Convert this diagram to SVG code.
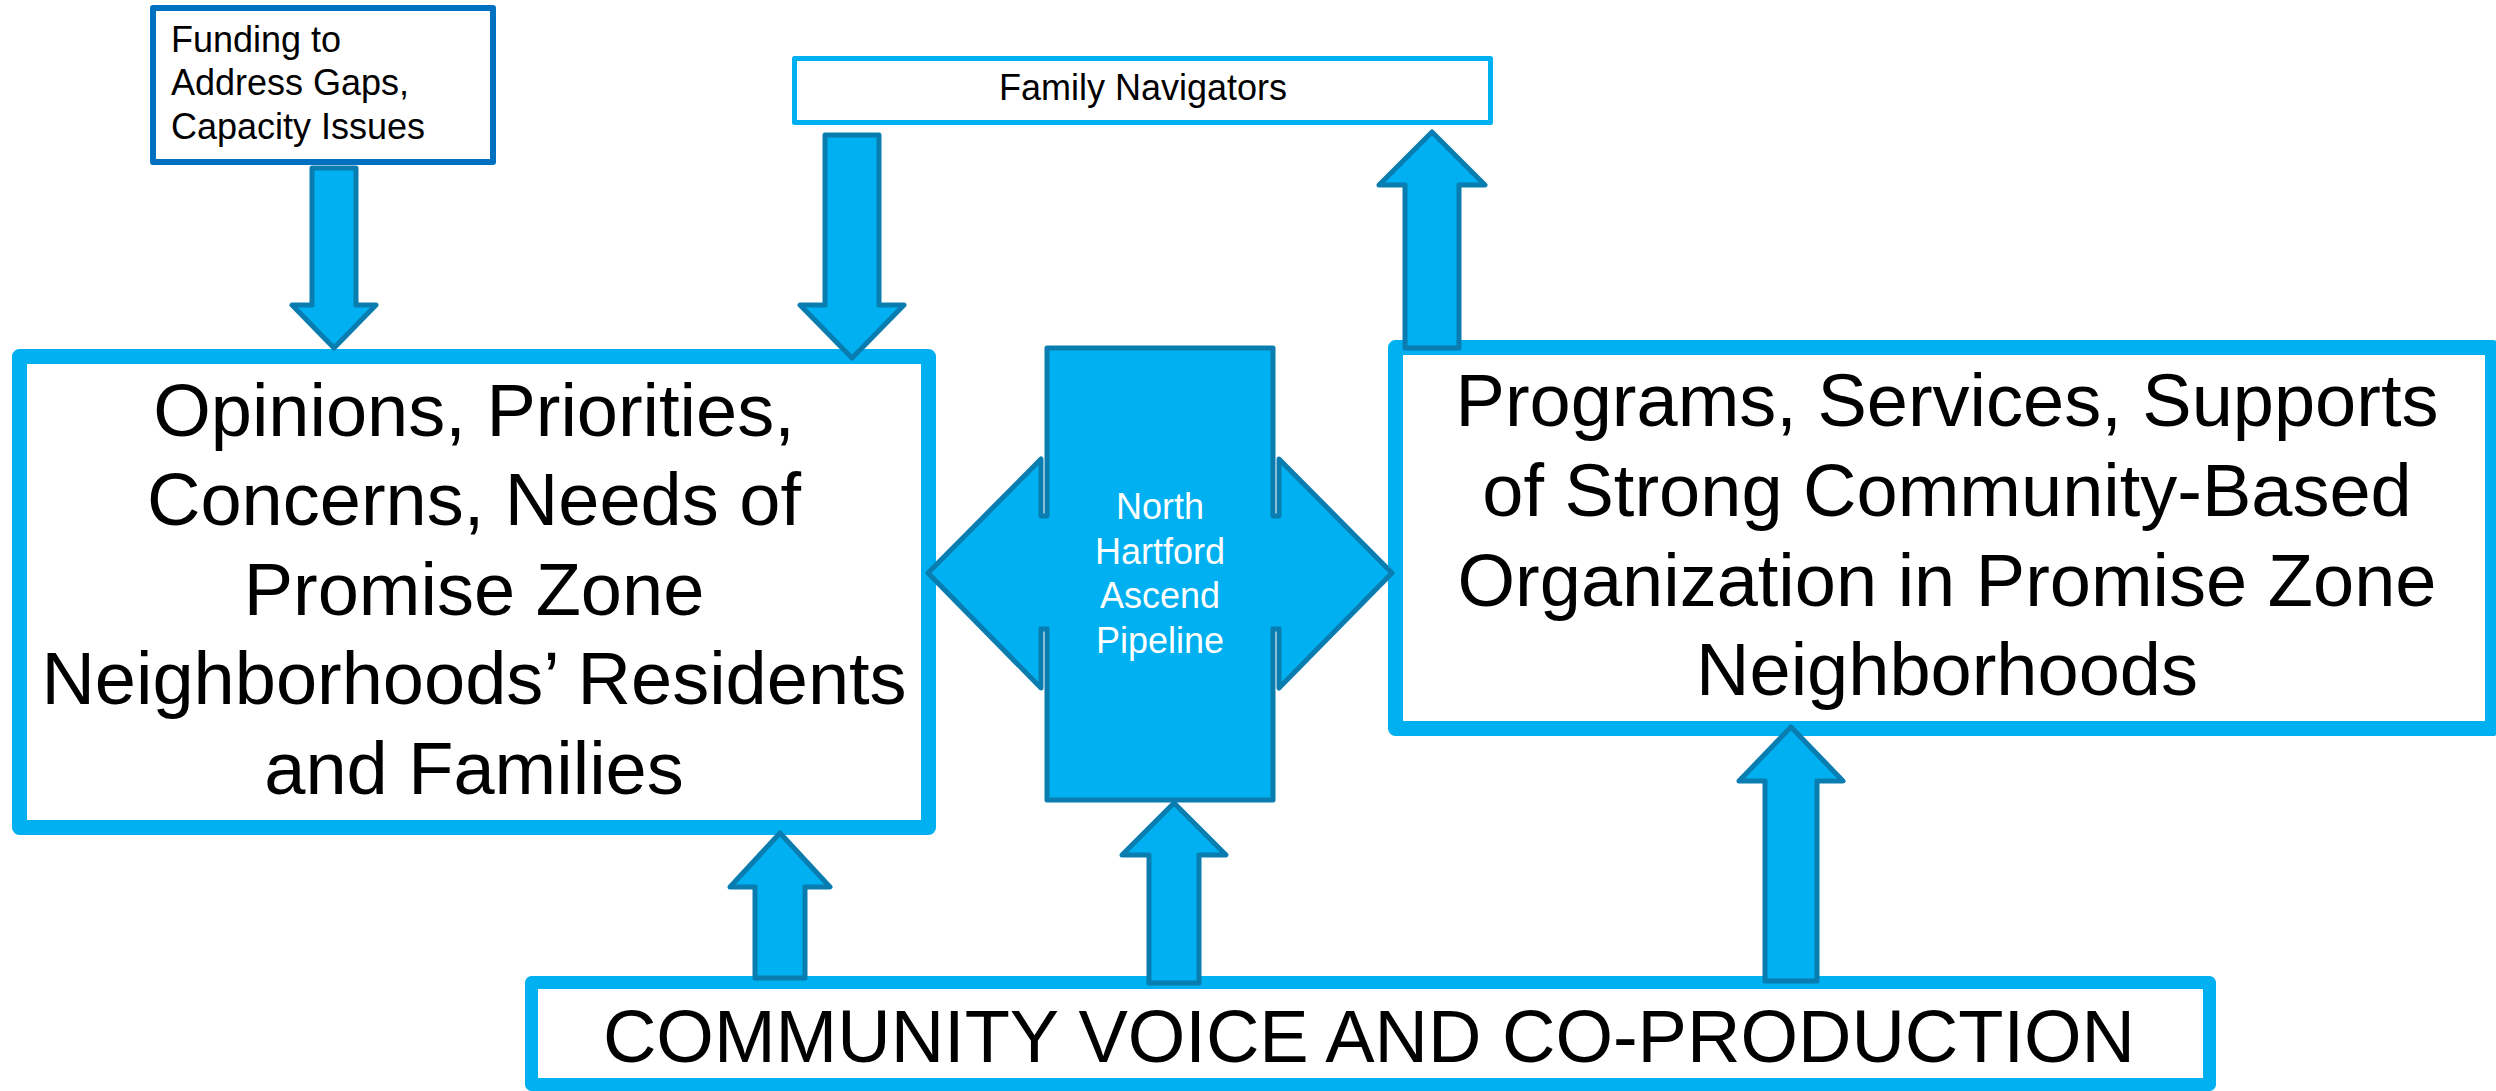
<svg xmlns="http://www.w3.org/2000/svg" width="2496" height="1091" viewBox="0 0 2496 1091">
<style>
.box{fill:#fff;stroke:#00B0F0;stroke-linejoin:round}
.arrow{fill:#00B0F0;stroke:#0A7DB0;stroke-width:5;stroke-linejoin:round}
.t{font-family:"Liberation Sans",Arial,sans-serif;fill:#000}
.big{font-size:74px;text-anchor:middle}
.small{font-size:36px}
.w{font-family:"Liberation Sans",Arial,sans-serif;fill:#fff;font-size:36px;text-anchor:middle}
</style>
<rect width="2496" height="1091" fill="#fff"/>
<g id="node-funding">
<rect class="box" x="153" y="8" width="340" height="154" style="stroke:#0070C0;stroke-width:6"/>
<text class="t small" x="171" y="52">Funding to</text>
<text class="t small" x="171" y="95">Address Gaps,</text>
<text class="t small" x="171" y="139">Capacity Issues</text>
</g>
<g id="node-family-navigators">
<rect class="box" x="794.5" y="58.5" width="696" height="64" style="stroke-width:5"/>
<text class="t small" x="1143" y="100" text-anchor="middle">Family Navigators</text>
</g>
<g id="node-opinions">
<rect class="box" x="19.5" y="356.5" width="909" height="471" style="stroke-width:15"/>
<text class="t big" x="474" y="436">Opinions, Priorities,</text>
<text class="t big" x="474" y="525">Concerns, Needs of</text>
<text class="t big" x="474" y="615">Promise Zone</text>
<text class="t big" x="474" y="704">Neighborhoods’ Residents</text>
<text class="t big" x="474" y="794">and Families</text>
</g>
<g id="node-programs">
<rect class="box" x="1395.5" y="347.5" width="1097" height="381" style="stroke-width:15"/>
<text class="t big" x="1947" y="426">Programs, Services, Supports</text>
<text class="t big" x="1947" y="516">of Strong Community-Based</text>
<text class="t big" x="1947" y="606">Organization in Promise Zone</text>
<text class="t big" x="1947" y="695">Neighborhoods</text>
</g>
<g id="node-community">
<rect class="box" x="531.5" y="982.5" width="1678" height="102" style="stroke-width:13"/>
<text class="t big" x="1369" y="1062">COMMUNITY VOICE AND CO-PRODUCTION</text>
</g>
<g id="connectors">
<path class="arrow" d="M312,168 H356 V305 H376 L334,348 L292,305 H312 Z"/>
<path class="arrow" d="M825,135 H879 V305 H904 L852,358 L800,305 H825 Z"/>
<path class="arrow" d="M1405,348 V185 H1379 L1432,132 L1485,185 H1459 V348 Z"/>
<path class="arrow" d="M755,978 V887 H730 L780,833 L830,887 H805 V978 Z"/>
<path class="arrow" d="M1149,983 V855 H1122 L1174,803 L1226,855 H1199 V983 Z"/>
<path class="arrow" d="M1765,981 V781 H1739 L1791,727 L1843,781 H1817 V981 Z"/>
</g>
<g id="node-pipeline">
<path class="arrow" d="M1047,348 H1273 V516 H1279 V459 L1392,573 L1279,688 V629 H1273 V800 H1047 V629 H1041 V688 L928,573 L1041,459 V516 H1047 Z"/>
<text class="w" x="1160" y="519">North</text>
<text class="w" x="1160" y="564">Hartford</text>
<text class="w" x="1160" y="608">Ascend</text>
<text class="w" x="1160" y="653">Pipeline</text>
</g>
</svg>
